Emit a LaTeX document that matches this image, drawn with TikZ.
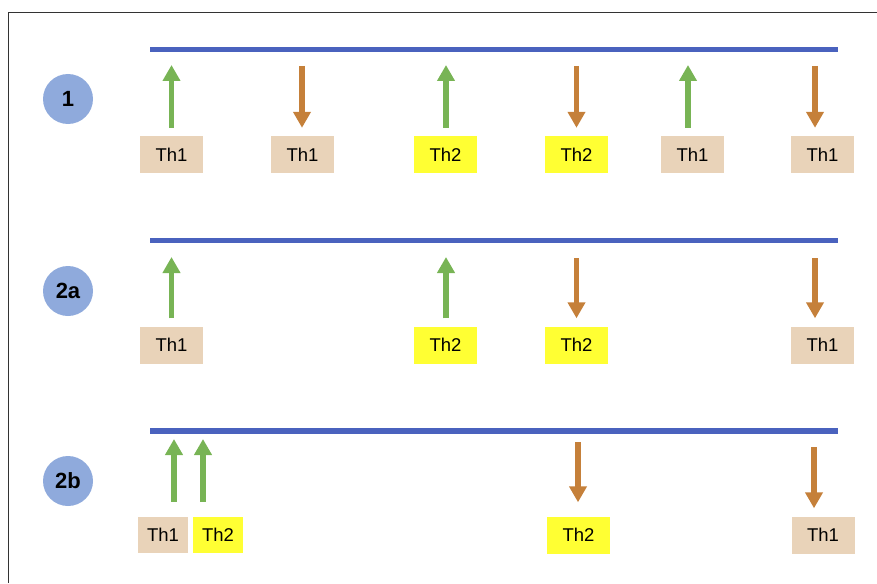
\documentclass[tikz,border=0pt]{standalone}
\usepackage{fontspec}
\setmainfont{Liberation Sans}
\usetikzlibrary{arrows.meta, positioning}

\definecolor{lineblue}{RGB}{74,98,190}
\definecolor{circblue}{RGB}{143,170,220}
\definecolor{upgreen}{RGB}{120,180,85}
\definecolor{downorange}{RGB}{197,128,58}
\definecolor{thtan}{RGB}{233,211,185}
\definecolor{thyellow}{RGB}{255,255,51}

\tikzset{
  thone/.style={fill=thtan, minimum width=63pt, minimum height=37pt, inner sep=0pt,
    font=\fontsize{18.5}{20}\selectfont},
  thtwo/.style={thone, fill=thyellow},
  rowlabel/.style={circle, fill=circblue, minimum size=50pt, inner sep=0pt,
    font=\fontsize{22}{24}\selectfont\bfseries},
  membrane/.style={draw=lineblue, line width=5.5pt},
  uparr/.style={draw=upgreen, line width=5.5pt, -{Triangle[width=17pt,length=16pt]}, shorten <=8pt},
  downarr/.style={draw=downorange, line width=5.5pt, -{Triangle[width=17pt,length=16pt]}, shorten >=8pt}
}

\begin{document}
\begin{tikzpicture}[x=1pt, y=-1pt]
    \useasboundingbox (0,0) rectangle (877,583);
    \draw[line width=1.3pt, black!80] (8.5,583) -- (8.5,12.5) -- (877,12.5);

    % row 1
    \node[rowlabel] (r1) at (68,99) {1};
    \coordinate (l1a) at (150,49.5);
    \coordinate (l1b) at (838,49.5);
    \draw[membrane] (l1a) -- (l1b);
    \node[thone] (b11) at (171.5,154.5) {Th1};
    \node[thone] (b12) at (302.5,154.5) {Th1};
    \node[thtwo] (b13) at (445.5,154.5) {Th2};
    \node[thtwo] (b14) at (576.5,154.5) {Th2};
    \node[thone] (b15) at (692.5,154.5) {Th1};
    \node[thone] (b16) at (822.5,154.5) {Th1};
    \coordinate (t11) at (171.5,65);
    \coordinate (t12) at (302,66);
    \coordinate (t13) at (446,65);
    \coordinate (t14) at (576.5,66);
    \coordinate (t15) at (688,65);
    \coordinate (t16) at (815,66);
    \draw[uparr] (b11.north -| t11) -- (t11);
    \draw[downarr] (t12) -- (b12.north -| t12);
    \draw[uparr] (b13.north -| t13) -- (t13);
    \draw[downarr] (t14) -- (b14.north -| t14);
    \draw[uparr] (b15.north -| t15) -- (t15);
    \draw[downarr] (t16) -- (b16.north -| t16);

    % row 2a
    \node[rowlabel] (r2) at (68,291) {2a};
    \coordinate (l2a) at (150,240.5);
    \coordinate (l2b) at (838,240.5);
    \draw[membrane] (l2a) -- (l2b);
    \node[thone] (b21) at (171.5,345) {Th1};
    \node[thtwo] (b22) at (445.5,345) {Th2};
    \node[thtwo] (b23) at (576.5,345) {Th2};
    \node[thone] (b24) at (822.5,345) {Th1};
    \coordinate (t21) at (171.5,257);
    \coordinate (t22) at (446,257);
    \coordinate (t23) at (576.5,258);
    \coordinate (t24) at (815,258);
    \draw[uparr] (b21.north -| t21) -- (t21);
    \draw[uparr] (b22.north -| t22) -- (t22);
    \draw[downarr] (t23) -- (b23.north -| t23);
    \draw[downarr] (t24) -- (b24.north -| t24);

    % row 2b
    \node[rowlabel] (r3) at (68,481) {2b};
    \coordinate (l3a) at (150,431);
    \coordinate (l3b) at (838,431);
    \draw[membrane] (l3a) -- (l3b);
    \node[thone, minimum width=50pt, minimum height=36pt] (b31) at (163,535) {Th1};
    \node[thtwo, minimum width=50pt, minimum height=36pt] (b32) at (218,535) {Th2};
    \node[thtwo] (b33) at (578.5,535) {Th2};
    \node[thone] (b34) at (823,535) {Th1};
    \coordinate (t31) at (174,439);
    \coordinate (t32) at (203,439);
    \coordinate (t33) at (578,442);
    \coordinate (t34) at (814,447);
    \draw[uparr, shorten <=15pt] (b31.north -| t31) -- (t31);
    \draw[uparr, shorten <=15pt] (b32.north -| t32) -- (t32);
    \draw[downarr, shorten >=14pt] (t33) -- (b33.north -| t33);
    \draw[downarr, shorten >=8pt] (t34) -- (b34.north -| t34);
\end{tikzpicture}
\end{document}
